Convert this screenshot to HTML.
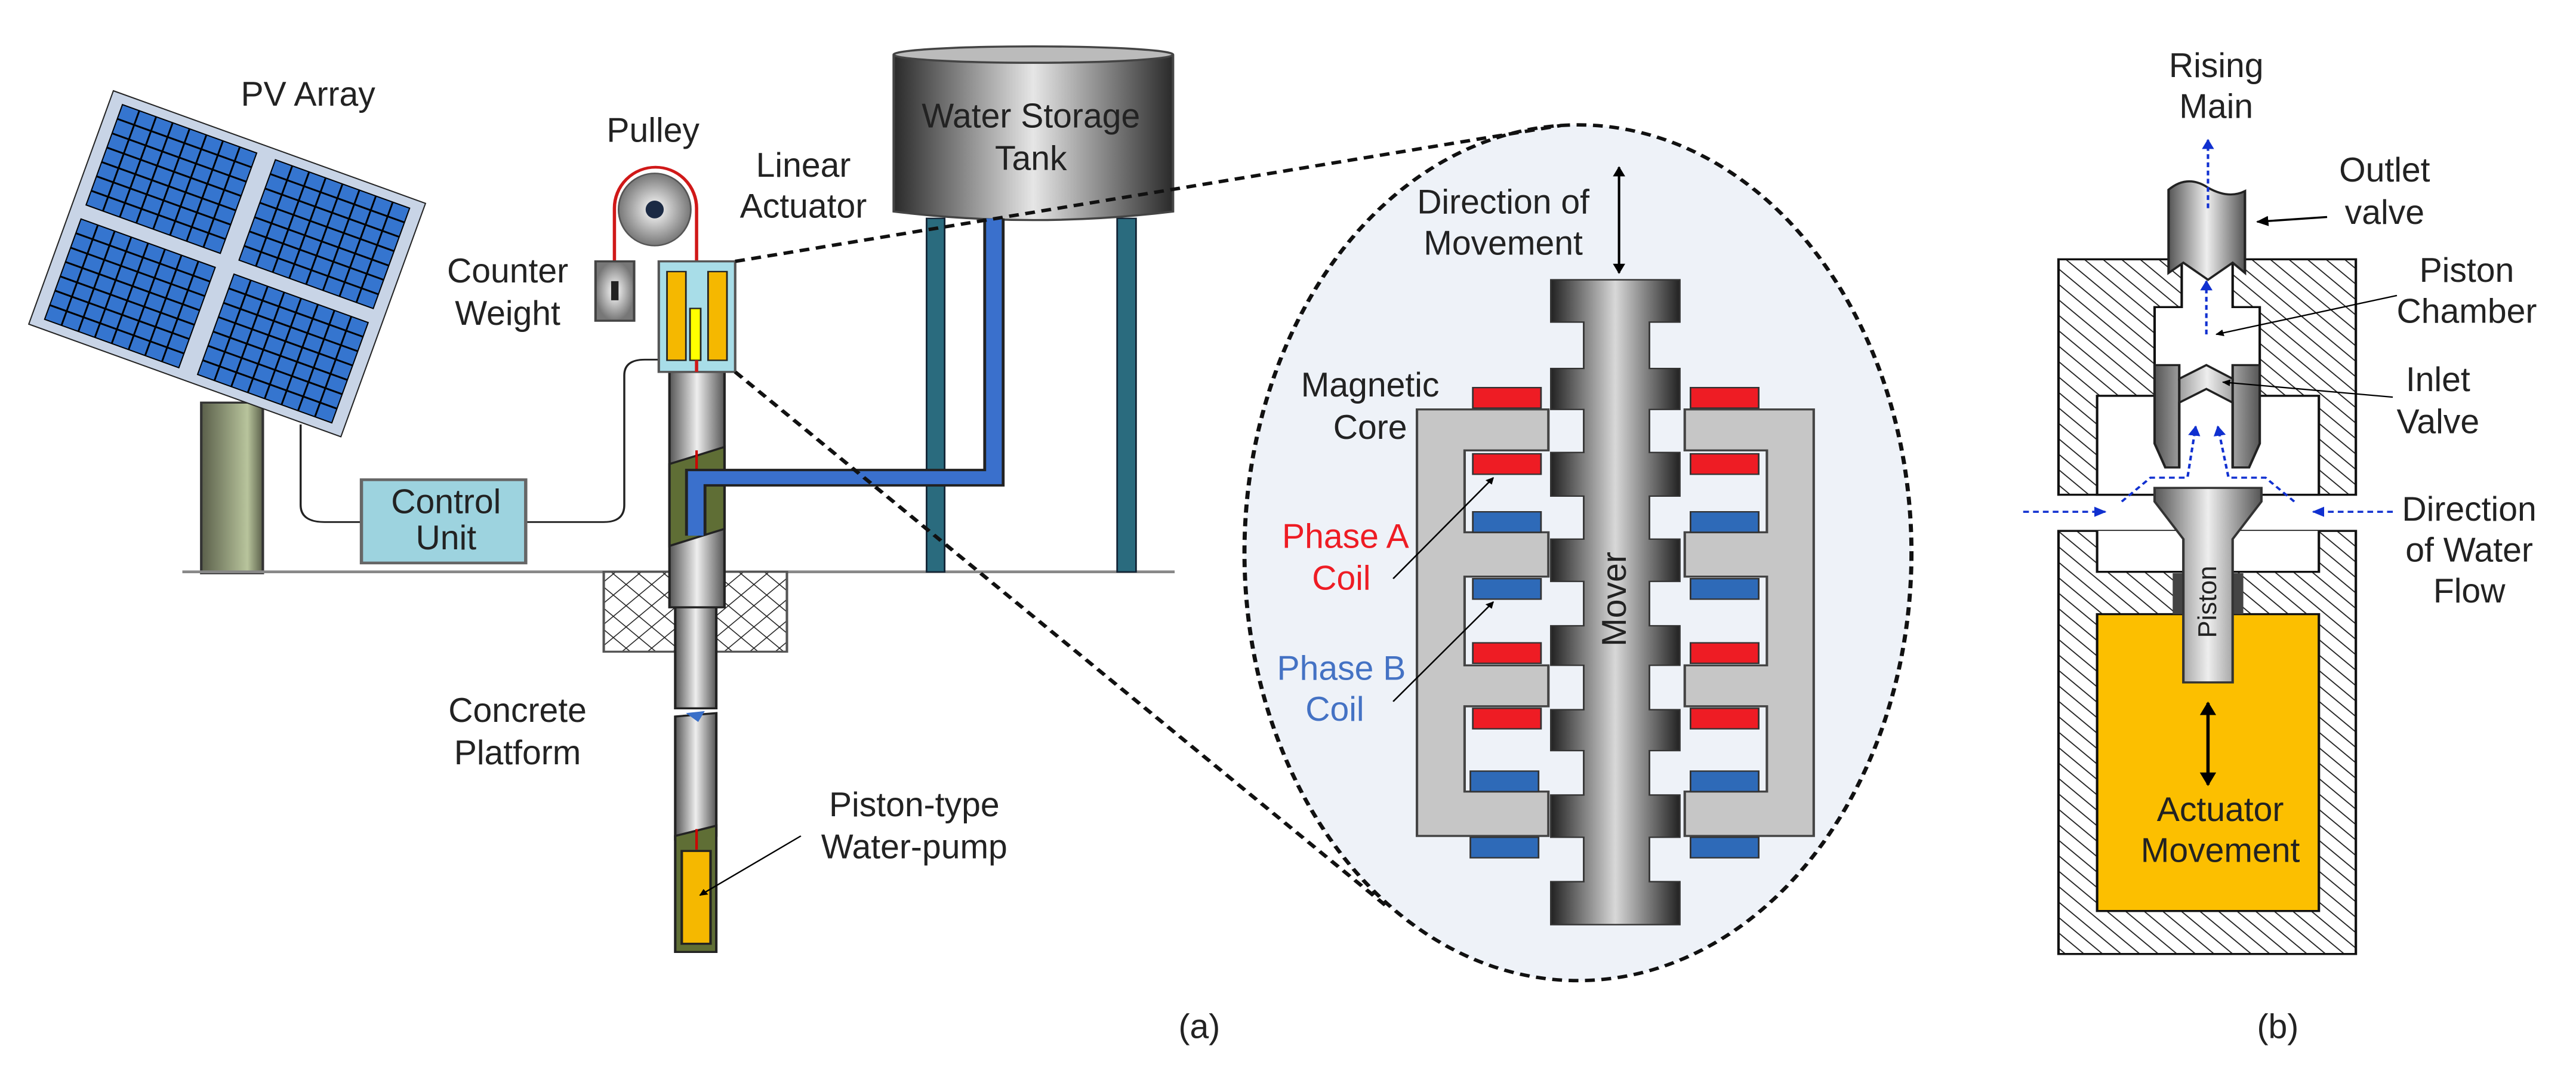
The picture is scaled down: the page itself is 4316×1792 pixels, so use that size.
<!DOCTYPE html>
<html><head><meta charset="utf-8"><style>
html,body{margin:0;padding:0;background:#fff;overflow:hidden}
svg{display:block}
text{font-family:"Liberation Sans",Arial,sans-serif;font-size:50px;fill:#222;text-anchor:middle;transform-box:fill-box;transform-origin:center;transform:scaleX(0.83)}
text.r{transform:scaleY(0.83)}
</style></head><body>
<svg width="4316" height="1792" viewBox="0 0 3136 1568" preserveAspectRatio="none" xmlns="http://www.w3.org/2000/svg">
<defs>
<linearGradient id="gh" x1="0" x2="1" y1="0" y2="0"><stop offset="0" stop-color="#2a2a2a"/><stop offset="0.5" stop-color="#e6e6e6"/><stop offset="1" stop-color="#2a2a2a"/></linearGradient>
<linearGradient id="gm" x1="0" x2="1" y1="0" y2="0"><stop offset="0" stop-color="#222"/><stop offset="0.5" stop-color="#d8d8d8"/><stop offset="1" stop-color="#222"/></linearGradient>
<linearGradient id="gp" x1="0" x2="1"><stop offset="0" stop-color="#555"/><stop offset="0.5" stop-color="#eee"/><stop offset="1" stop-color="#555"/></linearGradient>
<linearGradient id="gpost" x1="0" x2="1"><stop offset="0" stop-color="#5a5f4a"/><stop offset="0.75" stop-color="#b8c49c"/><stop offset="1" stop-color="#5a5f4a"/></linearGradient>
<radialGradient id="gpul"><stop offset="0" stop-color="#fff"/><stop offset="1" stop-color="#777"/></radialGradient>
<pattern id="hatch" width="16" height="16" patternUnits="userSpaceOnUse" patternTransform="rotate(-45)"><rect width="16" height="16" fill="#fff"/><line x1="0" y1="0" x2="0" y2="16" stroke="#222" stroke-width="3"/></pattern>
<pattern id="xh" width="22" height="22" patternUnits="userSpaceOnUse" patternTransform="rotate(45)"><rect width="22" height="22" fill="#fff"/><line x1="0" y1="0" x2="22" y2="0" stroke="#222" stroke-width="2.5"/><line x1="0" y1="0" x2="0" y2="22" stroke="#222" stroke-width="2.5"/></pattern>
<marker id="ah" viewBox="0 0 10 10" refX="9" refY="5" markerWidth="5" markerHeight="5" orient="auto-start-reverse"><path d="M0,0L10,5L0,10z" fill="#000"/></marker>
<marker id="bh" viewBox="0 0 10 10" refX="9" refY="5" markerWidth="5" markerHeight="5" orient="auto-start-reverse"><path d="M0,0L10,5L0,10z" fill="#1030d0"/></marker>
</defs>

<rect x="245" y="590" width="75" height="250" fill="url(#gpost)" stroke="#333" stroke-width="3"/>
<g transform="matrix(3.8,1.65,-1.03,3.42,138,133)">
<rect x="0" y="0" width="100" height="100" fill="#c8d4e6" stroke="#222" stroke-width="2" vector-effect="non-scaling-stroke"/>
<g fill="#3575cf" stroke="#000" stroke-width="2">
<rect x="4" y="4" width="43" height="43" vector-effect="non-scaling-stroke"/>
<rect x="53" y="4" width="43" height="43" vector-effect="non-scaling-stroke"/>
<rect x="4" y="53" width="43" height="43" vector-effect="non-scaling-stroke"/>
<rect x="53" y="53" width="43" height="43" vector-effect="non-scaling-stroke"/>
</g>
<g stroke="#000" stroke-width="3">
<path vector-effect="non-scaling-stroke" d="M9.4,4V47M14.8,4V47M20.1,4V47M25.5,4V47M30.9,4V47M36.2,4V47M41.6,4V47M58.4,4V47M63.8,4V47M69.1,4V47M74.5,4V47M79.9,4V47M85.2,4V47M90.6,4V47M9.4,53V96M14.8,53V96M20.1,53V96M25.5,53V96M30.9,53V96M36.2,53V96M41.6,53V96M58.4,53V96M63.8,53V96M69.1,53V96M74.5,53V96M79.9,53V96M85.2,53V96M90.6,53V96"/>
<path vector-effect="non-scaling-stroke" d="M4,10.1H47M4,16.3H47M4,22.4H47M4,28.6H47M4,34.7H47M4,40.9H47M53,10.1H96M53,16.3H96M53,22.4H96M53,28.6H96M53,34.7H96M53,40.9H96M4,59.1H47M4,65.3H47M4,71.4H47M4,77.6H47M4,83.7H47M4,89.9H47M53,59.1H96M53,65.3H96M53,71.4H96M53,77.6H96M53,83.7H96M53,89.9H96"/>
</g></g>
<text x="375" y="155">PV Array</text>

<line x1="222" y1="838" x2="1430" y2="838" stroke="#888" stroke-width="4"/>
<path d="M366,622V740Q366,765 395,765H440M640,765H735Q760,765 760,740V550Q760,527 785,527H802" fill="none" stroke="#222" stroke-width="2.5"/>
<rect x="440" y="703" width="200" height="122" fill="#9dd3df" stroke="#666" stroke-width="4"/>
<text x="543" y="752">Control</text><text x="543" y="805">Unit</text>

<rect x="1128" y="320" width="22" height="518" fill="#2a6b7e" stroke="#123" stroke-width="2"/>
<rect x="1360" y="320" width="23" height="518" fill="#2a6b7e" stroke="#123" stroke-width="2"/>
<path d="M1088,82V310Q1258,335 1428,310V82Z" fill="url(#gh)" stroke="#444" stroke-width="3"/>
<ellipse cx="1258" cy="80" rx="170" ry="12" fill="#bbb" stroke="#444" stroke-width="3"/>
<text x="1255" y="187">Water Storage</text><text x="1255" y="249">Tank</text>

<rect x="735" y="838" width="223" height="117" fill="url(#xh)" stroke="#555" stroke-width="3"/>
<rect x="815" y="545" width="67" height="345" fill="url(#gp)" stroke="#222" stroke-width="3"/>
<path d="M815,680L882,655V775L815,800Z" fill="#5f6e35" stroke="#222" stroke-width="3"/>
<rect x="822" y="890" width="50" height="148" fill="url(#gp)" stroke="#222" stroke-width="3"/>
<path d="M822,1050L872,1045V1225L822,1230Z" fill="url(#gp)" stroke="#222" stroke-width="3"/>
<path d="M835,1045L858,1042L850,1058Z" fill="#3a6fc8"/>
<path d="M822,1225L872,1210V1395H822Z" fill="#5f6e35" stroke="#222" stroke-width="3"/>
<rect x="830" y="1247" width="35" height="136" fill="#f5b800" stroke="#222" stroke-width="3"/>
<line x1="848" y1="1215" x2="848" y2="1245" stroke="#c00" stroke-width="3"/>
<line x1="848" y1="660" x2="848" y2="690" stroke="#c00" stroke-width="3"/>
<path d="M847,785V700H1210V320" fill="none" stroke="#222" stroke-width="26"/>
<path d="M847,785V700H1210V320" fill="none" stroke="#3a70cc" stroke-width="19"/>

<path d="M748,383V305A50,60 0 0 1 848,305V545" fill="none" stroke="#d01818" stroke-width="4"/>
<ellipse cx="797" cy="307" rx="44" ry="53" fill="url(#gpul)" stroke="#555" stroke-width="2"/>
<ellipse cx="797" cy="307" rx="11" ry="13" fill="#1b2a44"/>
<rect x="725" y="383" width="47" height="87" fill="url(#gpul)" stroke="#444" stroke-width="3"/>
<rect x="744" y="412" width="9" height="28" fill="#222"/>
<rect x="802" y="383" width="93" height="162" fill="#a8dde8" stroke="#555" stroke-width="3"/>
<rect x="812" y="398" width="23" height="130" fill="#f5b800" stroke="#222" stroke-width="2"/>
<rect x="862" y="398" width="23" height="130" fill="#f5b800" stroke="#222" stroke-width="2"/>
<rect x="840" y="452" width="13" height="76" fill="#ff0" stroke="#222" stroke-width="2"/>
<line x1="848" y1="528" x2="848" y2="545" stroke="#d01818" stroke-width="4"/>

<text x="795" y="208">Pulley</text>
<text x="618" y="414">Counter</text><text x="618" y="476">Weight</text>
<text x="978" y="259">Linear</text><text x="978" y="319">Actuator</text>
<text x="630" y="1058">Concrete</text><text x="630" y="1120">Platform</text>
<text x="1113" y="1196">Piston-type</text><text x="1113" y="1258">Water-pump</text>
<line x1="975" y1="1225" x2="852" y2="1312" stroke="#000" stroke-width="2" marker-end="url(#ah)"/>
<text x="1460" y="1521">(a)</text>

<ellipse cx="1921" cy="810" rx="406" ry="627" fill="#eef2f8" stroke="#111" stroke-width="5" stroke-dasharray="12,8"/>
<line x1="895" y1="383" x2="1900" y2="184" stroke="#111" stroke-width="5" stroke-dasharray="12,8"/>
<line x1="895" y1="545" x2="1690" y2="1330" stroke="#111" stroke-width="5" stroke-dasharray="12,8"/>

<g transform="translate(1568,0)">
<text x="262" y="313">Direction of</text><text x="262" y="373">Movement</text>
<line x1="403" y1="245" x2="403" y2="400" stroke="#000" stroke-width="3" marker-start="url(#ah)" marker-end="url(#ah)"/>
<path d="M157,600H317V660H215V780H317V845H215V975H317V1035H215V1160H317V1225H157Z" fill="#c6c6c6" stroke="#444" stroke-width="3"/>
<path d="M640,600H483V660H583V780H483V845H583V975H483V1035H583V1160H483V1225H640Z" fill="#c6c6c6" stroke="#444" stroke-width="3"/>
<path d="M320,410H477V472H440V540H477V600H440V663H477V727H440V790H477V852H440V917H477V975H440V1040H477V1100H440V1165H477V1227H440V1292H477V1355H320V1292H360V1227H320V1165H360V1100H320V1040H360V975H320V917H360V852H320V790H360V727H320V663H360V600H320V540H360V472H320Z" fill="url(#gm)" stroke="#333" stroke-width="2"/>
<g transform="translate(414,878) rotate(-90)"><text class="r" x="0" y="0">Mover</text></g>
<g stroke="#333" stroke-width="2">
<g fill="#ee1c24">
<rect x="225" y="568" width="83" height="30"/><rect x="225" y="665" width="83" height="30"/><rect x="225" y="942" width="83" height="30"/><rect x="225" y="1038" width="83" height="30"/>
<rect x="490" y="568" width="83" height="30"/><rect x="490" y="665" width="83" height="30"/><rect x="490" y="942" width="83" height="30"/><rect x="490" y="1038" width="83" height="30"/>
</g><g fill="#2e6ab8">
<rect x="225" y="750" width="83" height="30"/><rect x="225" y="848" width="83" height="30"/><rect x="222" y="1130" width="83" height="30"/><rect x="222" y="1227" width="83" height="30"/>
<rect x="490" y="750" width="83" height="30"/><rect x="490" y="848" width="83" height="30"/><rect x="490" y="1130" width="83" height="30"/><rect x="490" y="1227" width="83" height="30"/>
</g></g>
<text x="100" y="581">Magnetic</text><text x="100" y="643">Core</text>
<text x="70" y="803" style="fill:#ee1c24">Phase A</text><text x="65" y="864" style="fill:#ee1c24">Coil</text>
<text x="65" y="996" style="fill:#4472c4">Phase B</text><text x="57" y="1056" style="fill:#4472c4">Coil</text>
<line x1="128" y1="848" x2="250" y2="700" stroke="#000" stroke-width="2" marker-end="url(#ah)"/>
<line x1="128" y1="1028" x2="250" y2="882" stroke="#000" stroke-width="2" marker-end="url(#ah)"/>

<rect x="938" y="380" width="362" height="345" fill="url(#hatch)" stroke="#111" stroke-width="3"/>
<path d="M1088,380V450H1055V580H985V725H1255V580H1183V450H1150V380Z" fill="#fff" stroke="#111" stroke-width="3"/>
<rect x="938" y="778" width="362" height="620" fill="url(#hatch)" stroke="#111" stroke-width="3"/>
<path d="M985,778V838H1255V778" fill="#fff" stroke="#111" stroke-width="3"/>
<rect x="985" y="900" width="270" height="435" fill="#fcbf00" stroke="#111" stroke-width="3"/>
<rect x="1077" y="840" width="13" height="60" fill="#444"/><rect x="1150" y="840" width="13" height="60" fill="#444"/>
<path d="M1072,400V278Q1095,255 1120,275Q1145,292 1165,280V400L1150,385L1120,410L1090,385Z" fill="url(#gp)" stroke="#222" stroke-width="3"/>
<path d="M1055,535H1085V555L1118,535L1150,555V535H1183V650L1170,685H1150V590L1118,570L1085,590V685H1068L1055,650Z" fill="url(#gp)" stroke="#222" stroke-width="3"/>
<path d="M1085,555V685M1150,555V685" stroke="#222" stroke-width="3"/>
<path d="M1055,715H1185V735L1150,790V1000H1090V790L1055,735Z" fill="url(#gp)" stroke="#333" stroke-width="3"/>
<g transform="translate(1132,882) rotate(-90)"><text class="r" x="0" y="0" style="font-size:38px">Piston</text></g>
<line x1="1120" y1="1030" x2="1120" y2="1150" stroke="#000" stroke-width="4" marker-start="url(#ah)" marker-end="url(#ah)"/>
<text x="1135" y="1203">Actuator</text><text x="1135" y="1263">Movement</text>
<g fill="none" stroke="#1030d0" stroke-width="3" stroke-dasharray="7,5">
<line x1="1120" y1="305" x2="1120" y2="205" marker-end="url(#bh)"/>
<line x1="1118" y1="490" x2="1118" y2="412" marker-end="url(#bh)"/>
<path d="M1015,735L1050,700H1095L1105,625" marker-end="url(#bh)"/>
<path d="M1225,735L1190,700H1145L1132,625" marker-end="url(#bh)"/>
<line x1="895" y1="750" x2="995" y2="750" marker-end="url(#bh)"/>
<line x1="1345" y1="750" x2="1248" y2="750" marker-end="url(#bh)"/>
</g>
<text x="1130" y="113">Rising</text><text x="1130" y="173">Main</text>
<text x="1335" y="266">Outlet</text><text x="1335" y="328">valve</text>
<line x1="1265" y1="318" x2="1180" y2="325" stroke="#000" stroke-width="3" marker-end="url(#ah)"/>
<text x="1435" y="413">Piston</text><text x="1435" y="473">Chamber</text>
<line x1="1350" y1="433" x2="1130" y2="490" stroke="#000" stroke-width="2" marker-end="url(#ah)"/>
<text x="1400" y="573">Inlet</text><text x="1400" y="635">Valve</text>
<line x1="1345" y1="582" x2="1138" y2="560" stroke="#000" stroke-width="2" marker-end="url(#ah)"/>
<text x="1438" y="763">Direction</text><text x="1438" y="823">of Water</text><text x="1438" y="883">Flow</text>
<text x="1205" y="1521">(b)</text>
</g>
</svg>
</body></html>
